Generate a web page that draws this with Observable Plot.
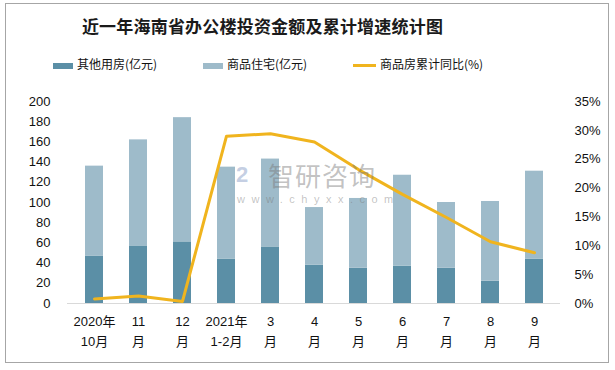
<!DOCTYPE html>
<html><head><meta charset="utf-8">
<script src="https://cdn.jsdelivr.net/npm/d3@7"></script>
<script src="https://cdn.jsdelivr.net/npm/@observablehq/plot@0.6"></script>
<style>
body{margin:0;background:#fff;font-family:"Noto Sans CJK SC","Liberation Sans",sans-serif;}
#wrap{position:relative;width:615px;height:370px;overflow:hidden;}
#frame{position:absolute;left:5px;top:3px;width:604px;height:360px;border:1px solid #a6a6a6;box-sizing:border-box;}
#title{position:absolute;left:0;width:525px;top:13px;text-align:center;font-size:17px;font-weight:bold;color:#1a1a1a;letter-spacing:0.2px;padding-left:0px;}
.lg{position:absolute;top:56px;font-size:12px;color:#111;line-height:16px;}
.sw{display:inline-block;vertical-align:middle;margin-right:4px;}
#chart{position:absolute;left:0;top:85px;}
#wm{position:absolute;left:236px;top:160px;color:rgba(120,120,120,0.45);pointer-events:none;}
</style></head>
<body><div id="wrap">
<div id="frame"></div>
<div id="title">近一年海南省办公楼投资金额及累计增速统计图</div>
<div class="lg" style="left:53px"><span class="sw" style="width:20px;height:6px;background:#5b8fa6"></span>其他用房(亿元)</div>
<div class="lg" style="left:203px"><span class="sw" style="width:20px;height:6px;background:#9ebbca"></span>商品住宅(亿元)</div>
<div class="lg" style="left:353px"><span class="sw" style="width:23px;height:3px;background:#f0b41e"></span>商品房累计同比(%)</div>
<div id="chart"></div>
<div id="wm">
  <div style="position:absolute;left:0;top:4px;width:24px;height:22px;color:rgba(140,160,200,0.5);font-size:22px;font-weight:bold;line-height:22px;font-family:'Liberation Sans'">2</div>
  <div style="position:absolute;left:32px;top:0;font-size:26px;line-height:30px;white-space:nowrap;letter-spacing:1px">智研咨询</div>
  <div style="position:absolute;left:1px;top:32px;font-size:11px;line-height:14px;white-space:nowrap;letter-spacing:6.5px;font-family:'Liberation Sans'">www.chyxx.com</div>
</div>
</div>
<script>
const categories = ["2020年\n10月","11\n月","12\n月","2021年\n1-2月","3\n月","4\n月","5\n月","6\n月","7\n月","8\n月","9\n月"];
const otherBuildings = [47, 57, 61, 44, 56, 38, 35, 37, 35, 22, 44];
const residential = [89, 105, 123, 91, 87, 57, 69, 90, 65, 79, 87];
const growthPct = [0.8, 1.3, 0.35, 29.0, 29.4, 28.0, 23.2, 18.9, 14.9, 10.7, 8.8];
const leftTicks = [0,20,40,60,80,100,120,140,160,180,200];
const rightTicks = [0,5,10,15,20,25,30,35];

const k = 200/35;
const bars = [];
categories.forEach((c,i)=>{
  bars.push({cat:c, series:"其他用房(亿元)", value:otherBuildings[i]});
  bars.push({cat:c, series:"商品住宅(亿元)", value:residential[i]});
});
const line = categories.map((c,i)=>({cat:c, pct:growthPct[i]}));

const plot = Plot.plot({
  width:615, height:280,
  marginTop:16, marginBottom:62, marginLeft:67, marginRight:55,
  style:{fontFamily:"'Liberation Sans','Noto Sans CJK SC',sans-serif", fontSize:"13px", color:"#111", background:"transparent"},
  x:{domain:categories, paddingInner:0.6, paddingOuter:0.3, label:null},
  y:{domain:[0,200], label:null},
  color:{domain:["其他用房(亿元)","商品住宅(亿元)"], range:["#5b8fa6","#9ebbca"]},
  marks:[
    Plot.barY(bars,{x:"cat", y:"value", fill:"series", order:["其他用房(亿元)","商品住宅(亿元)"]}),
    Plot.ruleY([0],{stroke:"#d9d9d9", strokeWidth:1.2}),
    Plot.lineY(line,{x:"cat", y:d=>d.pct*k, stroke:"#f0b41e", strokeWidth:3}),
    Plot.axisY(leftTicks,{anchor:"left", tickSize:0, tickPadding:17, label:null, fontSize:13}),
    Plot.axisY(rightTicks.map(v=>v*k),{anchor:"right", tickSize:0, tickPadding:14, label:null, fontSize:13, tickFormat:d=>Math.round(d/k)+"%"}),
    Plot.axisX({tickSize:0, tickPadding:9, label:null, lineHeight:1.5, fontSize:13})
  ]
});
document.getElementById("chart").appendChild(plot);
</script>
</body></html>
